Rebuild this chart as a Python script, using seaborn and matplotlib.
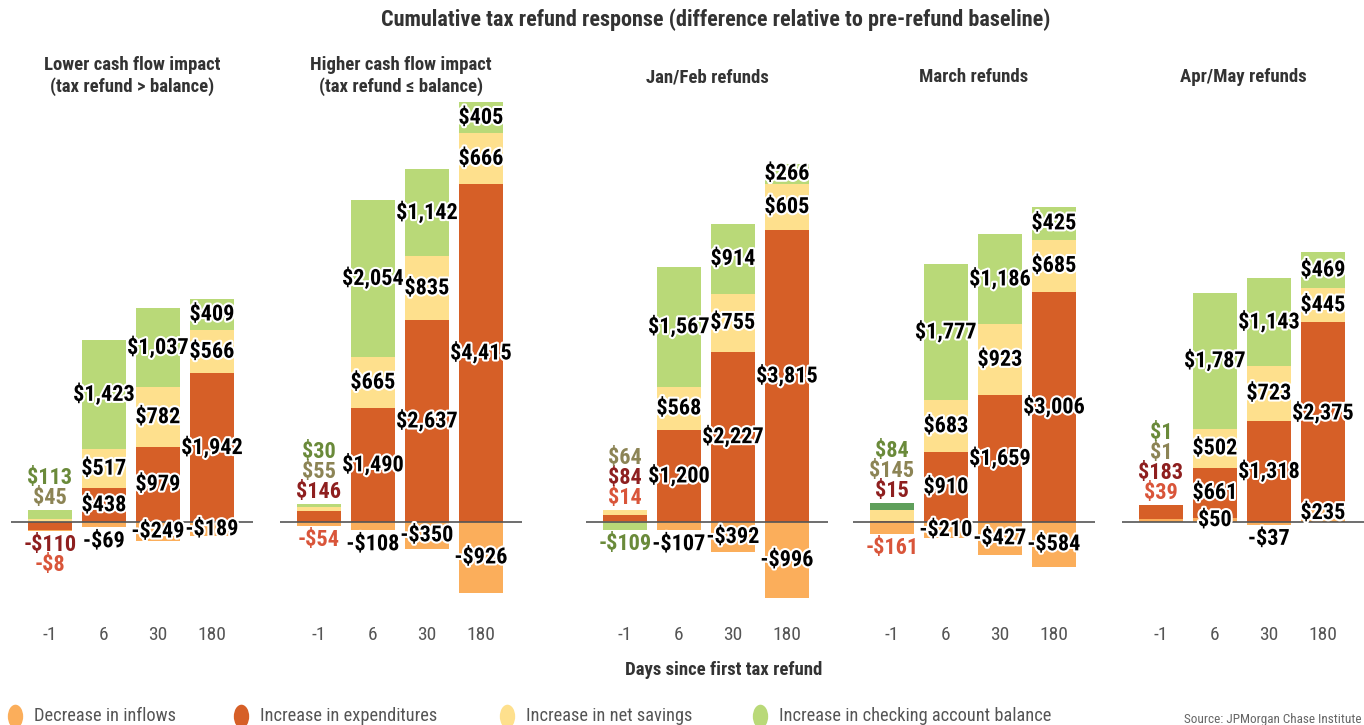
import numpy as np
import pandas as pd
import matplotlib
matplotlib.use("Agg")
import matplotlib.pyplot as plt
import matplotlib.patheffects as pe
from matplotlib.path import Path
from matplotlib.transforms import Affine2D
import seaborn as sns

# Data (one list per panel: days -1, 6, 30, 180)
days = ["-1", "6", "30", "180"]
panel_titles = [
    "Lower cash flow impact\n(tax refund > balance)",
    "Higher cash flow impact\n(tax refund \u2264 balance)",
    "Jan/Feb refunds",
    "March refunds",
    "Apr/May refunds",
]
components = ["Decrease in inflows", "Increase in expenditures",
              "Increase in net savings", "Increase in checking account balance"]

decrease_inflows = [[-8, -69, -249, -189], [-54, -108, -350, -926], [14, -107, -392, -996],
                    [-161, -210, -427, -584], [39, 50, -37, 235]]
increase_expenditures = [[-110, 438, 979, 1942], [146, 1490, 2637, 4415], [84, 1200, 2227, 3815],
                         [15, 910, 1659, 3006], [183, 661, 1318, 2375]]
increase_net_savings = [[45, 517, 782, 566], [55, 665, 835, 666], [64, 568, 755, 605],
                        [145, 683, 923, 685], [1, 502, 723, 445]]
increase_checking = [[113, 1423, 1037, 409], [30, 2054, 1142, 405], [-109, 1567, 914, 266],
                     [84, 1777, 1186, 425], [1, 1787, 1143, 469]]

bar_colors = ["#FBAE5B", "#D65F27", "#FEE08D", "#B9D978"]
outside_colors = ["#D9553A", "#8E1F1F", "#8C8455", "#6A8A3A"]
# the March day -1 balance block is drawn in a darker green in the original
special_color = {(3, 0, 3): "#5F9F5B"}

rows = []
for comp, series in zip(components, [decrease_inflows, increase_expenditures,
                                     increase_net_savings, increase_checking]):
    for p, vals in enumerate(series):
        for d, v in zip(days, vals):
            rows.append({"panel": p, "day": d, "component": comp, "value": v})
df = pd.DataFrame(rows)


def money(v):
    return f"-${abs(v):,}" if v < 0 else f"${v:,}"


def main():
    sns.set_theme(style="white")
    plt.rcParams["font.family"] = ["DejaVu Sans Condensed", "Roboto Condensed",
                                   "Roboto", "DejaVu Sans"]

    W, H = 1364, 725
    fig = plt.figure(figsize=(W / 100, H / 100), dpi=100)

    px_per_dollar = 0.0765
    ax_top, ax_bot, zero_px = 85, 615, 522
    ylim = (-(ax_bot - zero_px) / px_per_dollar, (zero_px - ax_top) / px_per_dollar)
    lefts = [11, 280, 586, 853, 1122]
    ax_w = 242
    lab_fs = 16

    halo = [pe.withStroke(linewidth=3, foreground="white")]

    for p, left in enumerate(lefts):
        ax = fig.add_axes([left / W, (H - ax_bot) / H, ax_w / W, (ax_bot - ax_top) / H])
        sub = df[df.panel == p]
        vals = np.array([sub[sub.component == c].set_index("day").loc[days, "value"].to_numpy()
                         for c in components])  # shape (4 comps, 4 days)
        x = np.arange(len(days))
        pos_base = np.zeros(len(days))
        neg_base = np.zeros(len(days))
        segs = {}
        # positives stacked upward in component order
        for k in range(len(components)):
            for i in x:
                v = vals[k, i]
                if v > 0:
                    segs[(k, i)] = (pos_base[i], v)
                    pos_base[i] += v
        # negatives stacked downward, balance nearest zero
        for k in reversed(range(len(components))):
            for i in x:
                v = vals[k, i]
                if v < 0:
                    segs[(k, i)] = (neg_base[i], v)
                    neg_base[i] += v

        for (k, i), (b, h) in segs.items():
            col = special_color.get((p, i, k), bar_colors[k])
            ax.bar(i, h, bottom=b, width=0.8, color=col, linewidth=0)

        ax.axhline(0, color="#555555", lw=1.2, zorder=3)

        # labels
        for i in x:
            if i == 0:
                # day -1: coloured labels stacked outside the bar
                n = 0
                for k in range(len(components)):
                    v = vals[k, i]
                    if v > 0:
                        ax.annotate(money(v), (i, pos_base[i]), xytext=(0, 12 + 20 * n),
                                    textcoords="offset pixels", ha="center", va="center",
                                    fontsize=lab_fs, fontweight="semibold",
                                    color=outside_colors[k])
                        n += 1
                n = 0
                for k in reversed(range(len(components))):
                    v = vals[k, i]
                    if v < 0:
                        ax.annotate(money(v), (i, neg_base[i]), xytext=(0, -14 - 20 * n),
                                    textcoords="offset pixels", ha="center", va="center",
                                    fontsize=lab_fs, fontweight="semibold",
                                    color=outside_colors[k])
                        n += 1
                continue
            for k in range(len(components)):
                b, h = segs[(k, i)]
                if h < 0 and abs(h) * px_per_dollar < 12:
                    xy, off = (i, b + h), (0, -14)
                else:
                    xy, off = (i, b + h / 2), (0, 0)
                ax.annotate(money(vals[k, i]), xy, xytext=off, textcoords="offset pixels",
                            ha="center", va="center", fontsize=lab_fs, fontweight="bold",
                            color="black", path_effects=halo, zorder=5)

        ax.set_xlim(-0.72, 3.76)
        ax.set_ylim(*ylim)
        ax.set_xticks(x)
        ax.set_xticklabels(days, fontsize=14, color="#555555")
        ax.tick_params(axis="x", length=0, pad=8)
        ax.set_yticks([])
        sns.despine(ax=ax, left=True, bottom=True)
        ax.grid(False)

        cx = (left + ax_w / 2) / W
        if "\n" in panel_titles[p]:
            fig.text(cx, 1 - 76 / H, panel_titles[p], ha="center", va="center",
                     fontsize=13.5, fontweight="bold", color="#333333", linespacing=1.25)
        else:
            fig.text(cx, 1 - 77 / H, panel_titles[p], ha="center", va="center",
                     fontsize=13.5, fontweight="bold", color="#333333")

    fig.text(716 / W, 1 - 20 / H,
             "Cumulative tax refund response (difference relative to pre-refund baseline)",
             ha="center", va="center", fontsize=16, fontweight="bold", color="#333333")
    fig.text(724 / W, 1 - 670 / H, "Days since first tax refund", ha="center", va="center",
             fontsize=13.5, fontweight="bold", color="#333333")

    # legend row, placed on a figure-wide overlay in pixel units
    lax = fig.add_axes([0, 0, 1, 1], facecolor="none")
    lax.set_xlim(0, W)
    lax.set_ylim(H, 0)
    lax.axis("off")
    ellipse = Path.unit_circle().transformed(Affine2D().scale(0.65, 1.0))
    marker_x = [15, 241, 507, 760]
    for mx, c, lab in zip(marker_x, bar_colors, components):
        lax.plot(mx, 716, marker=ellipse, ms=17, mfc=c, mec="none", ls="")
        lax.text(mx + 19, 716, lab, ha="left", va="center", fontsize=13.2, color="#555555")
    lax.text(1362, 719, "Source: JPMorgan Chase Institute", ha="right", va="center",
             fontsize=9.5, color="#666666")

    fig.savefig("out.png", dpi=100)


if __name__ == "__main__":
    main()
